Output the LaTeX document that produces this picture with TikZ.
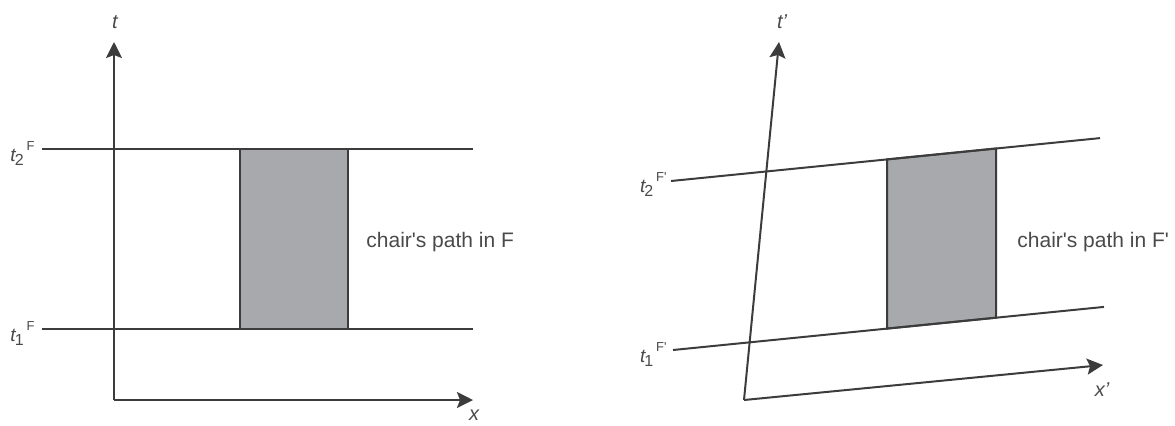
\documentclass[tikz,border=0pt]{standalone}
\usepackage{fontspec}
\setmainfont{Liberation Sans}
\usetikzlibrary{arrows.meta}
\definecolor{ink}{HTML}{3C3C3C}
\definecolor{txt}{HTML}{4A4A4A}
\definecolor{chairfill}{HTML}{A8A9AC}
\newcommand{\tlab}[2]{{\fontsize{9.5}{9.5}\selectfont\itshape t}\hspace{-0.5pt}\raisebox{-2pt}{\fontsize{8}{8}\selectfont #1}\hspace{1.5pt}\raisebox{5.5pt}{\fontsize{6.5}{6.5}\selectfont #2}}
\begin{document}
\begin{tikzpicture}[x=0.5pt,y=-0.5pt,
  axisline/.style={draw=ink,line width=1pt,-{Stealth[length=8pt,width=8pt,inset=1.5pt]}},
  worldline/.style={draw=ink,line width=1pt},
  chairbox/.style={fill=chairfill,draw=ink,line width=1pt},
  lbl/.style={text=txt,inner sep=0pt,font=\fontsize{10.5}{12}\selectfont},
  axlbl/.style={text=txt,inner sep=0pt,font=\fontsize{10}{12}\selectfont\itshape},
  tl/.style={text=txt,inner sep=0pt,anchor=base east}]
\useasboundingbox (0,0) rectangle (1175,425);
% ---------- left frame F ----------
\coordinate (O) at (114,400);
\coordinate (T) at (114,42);
\coordinate (X) at (473,400);
\coordinate (A2) at (42,149);
\coordinate (B2) at (473,149);
\coordinate (A1) at (42,329);
\coordinate (B1) at (473,329);
\coordinate (R1) at (240,149);
\coordinate (R2) at (348,149);
\coordinate (R3) at (348,329);
\coordinate (R4) at (240,329);
\path[chairbox] (R1) -- (R2) -- (R3) -- (R4) -- cycle;
\draw[worldline] (A2) -- (B2);
\draw[worldline] (A1) -- (B1);
\draw[axisline] (O) -- (T);
\draw[axisline] (O) -- (X);
\node[axlbl] (tlabel) at (115,22) {t};
\node[axlbl] (xlabel) at (474,415) {x};
\node[tl] (t2F) at (35,161) {\tlab{2}{F}};
\node[tl] (t1F) at (35,341) {\tlab{1}{F}};
\node[lbl,anchor=base west] (pathF) at (366,247) {chair\textquotesingle s path in F};
% ---------- right frame F' ----------
\coordinate (Op) at (744,400);
\coordinate (Tp) at (779,42);
\coordinate (Xp) at (1103,365);
\coordinate (C2) at (671,181);
\coordinate (D2) at (1100,138.1);
\coordinate (C1) at (673,350);
\coordinate (D1) at (1104,306.9);
\coordinate (S1) at (887,159.4);
\coordinate (S2) at (996,148.5);
\coordinate (S3) at (996,317.7);
\coordinate (S4) at (887,328.6);
\path[chairbox] (S1) -- (S2) -- (S3) -- (S4) -- cycle;
\draw[worldline] (C2) -- (D2);
\draw[worldline] (C1) -- (D1);
\draw[axisline] (Op) -- (Tp);
\draw[axisline] (Op) -- (Xp);
\node[axlbl] (tplabel) at (782,22) {t'};
\node[axlbl] (xplabel) at (1102,390) {x'};
\node[tl] (t2Fp) at (667,192) {\tlab{2}{F\textquotesingle}};
\node[tl] (t1Fp) at (667,362) {\tlab{1}{F\textquotesingle}};
\node[lbl,anchor=base west] (pathFp) at (1017,247) {chair\textquotesingle s path in F\textquotesingle};
\end{tikzpicture}
\end{document}
